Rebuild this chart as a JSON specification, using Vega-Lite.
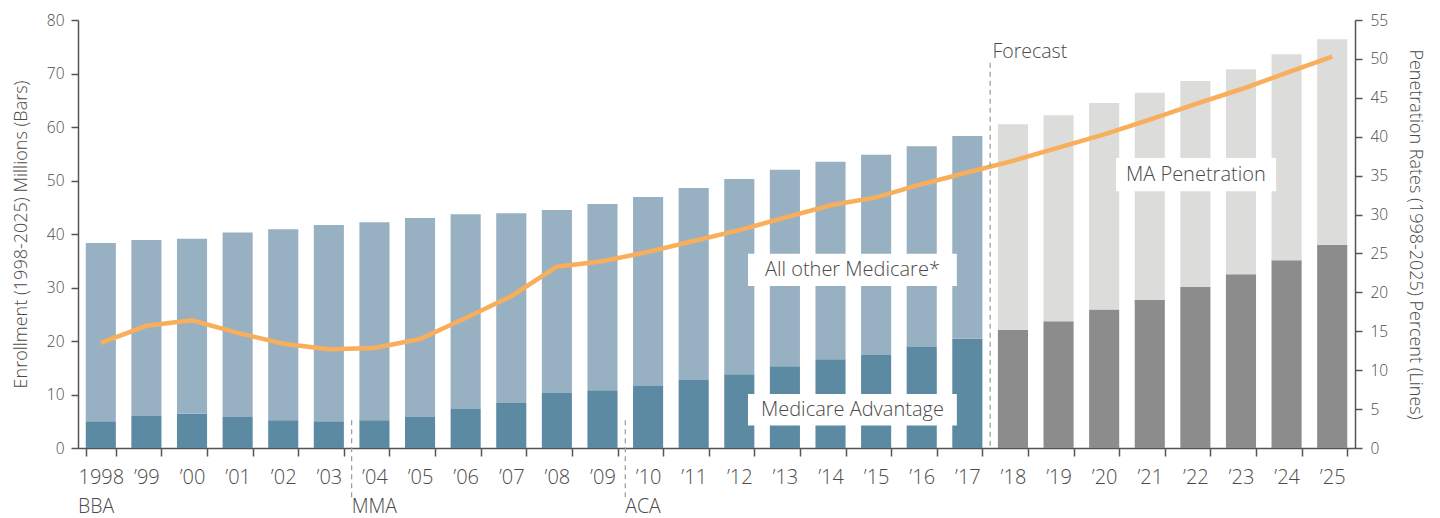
{
  "$schema": "https://vega.github.io/schema/vega-lite/v6.json",
  "width": 1277,
  "height": 428,
  "autosize": {"type": "none"},
  "padding": {"left": 78, "top": 20, "right": 85, "bottom": 70},
  "config": {
    "view": {"stroke": null},
    "font": "Open Sans",
    "axis": {
      "domainColor": "#555555",
      "domainWidth": 1.5,
      "tickColor": "#555555",
      "tickWidth": 1.5,
      "labelColor": "#4A4A4A",
      "titleColor": "#4A4A4A",
      "titleFontWeight": 300,
      "labelFontWeight": 300,
      "grid": false
    }
  },
  "datasets": {
    "bars": [
      {"yr": "1998", "seg": "Medicare Advantage", "ord": 0, "v": 5.0},
      {"yr": "1998", "seg": "All other Medicare*", "ord": 1, "v": 33.3},
      {"yr": "’99", "seg": "Medicare Advantage", "ord": 0, "v": 6.0},
      {"yr": "’99", "seg": "All other Medicare*", "ord": 1, "v": 32.9},
      {"yr": "’00", "seg": "Medicare Advantage", "ord": 0, "v": 6.4},
      {"yr": "’00", "seg": "All other Medicare*", "ord": 1, "v": 32.7},
      {"yr": "’01", "seg": "Medicare Advantage", "ord": 0, "v": 5.8},
      {"yr": "’01", "seg": "All other Medicare*", "ord": 1, "v": 34.5},
      {"yr": "’02", "seg": "Medicare Advantage", "ord": 0, "v": 5.2},
      {"yr": "’02", "seg": "All other Medicare*", "ord": 1, "v": 35.7},
      {"yr": "’03", "seg": "Medicare Advantage", "ord": 0, "v": 5.0},
      {"yr": "’03", "seg": "All other Medicare*", "ord": 1, "v": 36.7},
      {"yr": "’04", "seg": "Medicare Advantage", "ord": 0, "v": 5.2},
      {"yr": "’04", "seg": "All other Medicare*", "ord": 1, "v": 37.0},
      {"yr": "’05", "seg": "Medicare Advantage", "ord": 0, "v": 5.8},
      {"yr": "’05", "seg": "All other Medicare*", "ord": 1, "v": 37.2},
      {"yr": "’06", "seg": "Medicare Advantage", "ord": 0, "v": 7.3},
      {"yr": "’06", "seg": "All other Medicare*", "ord": 1, "v": 36.4},
      {"yr": "’07", "seg": "Medicare Advantage", "ord": 0, "v": 8.4},
      {"yr": "’07", "seg": "All other Medicare*", "ord": 1, "v": 35.5},
      {"yr": "’08", "seg": "Medicare Advantage", "ord": 0, "v": 10.3},
      {"yr": "’08", "seg": "All other Medicare*", "ord": 1, "v": 34.2},
      {"yr": "’09", "seg": "Medicare Advantage", "ord": 0, "v": 10.8},
      {"yr": "’09", "seg": "All other Medicare*", "ord": 1, "v": 34.8},
      {"yr": "’10", "seg": "Medicare Advantage", "ord": 0, "v": 11.6},
      {"yr": "’10", "seg": "All other Medicare*", "ord": 1, "v": 35.3},
      {"yr": "’11", "seg": "Medicare Advantage", "ord": 0, "v": 12.7},
      {"yr": "’11", "seg": "All other Medicare*", "ord": 1, "v": 35.9},
      {"yr": "’12", "seg": "Medicare Advantage", "ord": 0, "v": 13.8},
      {"yr": "’12", "seg": "All other Medicare*", "ord": 1, "v": 36.5},
      {"yr": "’13", "seg": "Medicare Advantage", "ord": 0, "v": 15.3},
      {"yr": "’13", "seg": "All other Medicare*", "ord": 1, "v": 36.7},
      {"yr": "’14", "seg": "Medicare Advantage", "ord": 0, "v": 16.6},
      {"yr": "’14", "seg": "All other Medicare*", "ord": 1, "v": 36.9},
      {"yr": "’15", "seg": "Medicare Advantage", "ord": 0, "v": 17.4},
      {"yr": "’15", "seg": "All other Medicare*", "ord": 1, "v": 37.4},
      {"yr": "’16", "seg": "Medicare Advantage", "ord": 0, "v": 18.9},
      {"yr": "’16", "seg": "All other Medicare*", "ord": 1, "v": 37.5},
      {"yr": "’17", "seg": "Medicare Advantage", "ord": 0, "v": 20.4},
      {"yr": "’17", "seg": "All other Medicare*", "ord": 1, "v": 37.9},
      {"yr": "’18", "seg": "MA forecast", "ord": 0, "v": 22.1},
      {"yr": "’18", "seg": "Other forecast", "ord": 1, "v": 38.4},
      {"yr": "’19", "seg": "MA forecast", "ord": 0, "v": 23.7},
      {"yr": "’19", "seg": "Other forecast", "ord": 1, "v": 38.5},
      {"yr": "’20", "seg": "MA forecast", "ord": 0, "v": 25.9},
      {"yr": "’20", "seg": "Other forecast", "ord": 1, "v": 38.6},
      {"yr": "’21", "seg": "MA forecast", "ord": 0, "v": 27.7},
      {"yr": "’21", "seg": "Other forecast", "ord": 1, "v": 38.7},
      {"yr": "’22", "seg": "MA forecast", "ord": 0, "v": 30.1},
      {"yr": "’22", "seg": "Other forecast", "ord": 1, "v": 38.5},
      {"yr": "’23", "seg": "MA forecast", "ord": 0, "v": 32.5},
      {"yr": "’23", "seg": "Other forecast", "ord": 1, "v": 38.3},
      {"yr": "’24", "seg": "MA forecast", "ord": 0, "v": 35.1},
      {"yr": "’24", "seg": "Other forecast", "ord": 1, "v": 38.5},
      {"yr": "’25", "seg": "MA forecast", "ord": 0, "v": 38.0},
      {"yr": "’25", "seg": "Other forecast", "ord": 1, "v": 38.4}
    ],
    "pen": [
      {"yr": "1998", "p": 13.5}, {"yr": "’99", "p": 15.7}, {"yr": "’00", "p": 16.4},
      {"yr": "’01", "p": 14.8}, {"yr": "’02", "p": 13.4}, {"yr": "’03", "p": 12.7},
      {"yr": "’04", "p": 12.85}, {"yr": "’05", "p": 14.0}, {"yr": "’06", "p": 16.7},
      {"yr": "’07", "p": 19.5}, {"yr": "’08", "p": 23.3}, {"yr": "’09", "p": 24.0},
      {"yr": "’10", "p": 25.2}, {"yr": "’11", "p": 26.6}, {"yr": "’12", "p": 28.0},
      {"yr": "’13", "p": 29.6}, {"yr": "’14", "p": 31.2}, {"yr": "’15", "p": 32.2},
      {"yr": "’16", "p": 33.9}, {"yr": "’17", "p": 35.4}, {"yr": "’18", "p": 36.9},
      {"yr": "’19", "p": 38.6}, {"yr": "’20", "p": 40.3}, {"yr": "’21", "p": 42.2},
      {"yr": "’22", "p": 44.2}, {"yr": "’23", "p": 46.1}, {"yr": "’24", "p": 48.2},
      {"yr": "’25", "p": 50.3}
    ],
    "boxes": [
      {"name": "All other Medicare*", "x1": 14.69, "x2": 19.27, "y1": 30.3, "y2": 36.3, "tx": 16.98, "ty": 33.3},
      {"name": "Medicare Advantage", "x1": 14.69, "x2": 19.27, "y1": 4.2, "y2": 10.1, "tx": 16.98, "ty": 7.1},
      {"name": "MA Penetration", "x1": 22.76, "x2": 26.27, "y1": 48.0, "y2": 54.2, "tx": 24.51, "ty": 51.0}
    ],
    "rules": [
      {"name": "Forecast", "x": 20, "y1": 72.0, "y2": 0},
      {"name": "MMA", "x": 6, "y1": 5.2, "y2": -9.3},
      {"name": "ACA", "x": 12, "y1": 5.2, "y2": -9.3}
    ],
    "notes": [
      {"name": "Forecast", "x": 20.05, "y": 74.1},
      {"name": "BBA", "x": 0.0, "y": -11.0},
      {"name": "MMA", "x": 6.0, "y": -11.0},
      {"name": "ACA", "x": 12.0, "y": -11.0}
    ]
  },
  "layer": [
    {
      "data": {"name": "bars"},
      "mark": {"type": "bar"},
      "encoding": {
        "x": {
          "field": "yr", "type": "ordinal", "sort": null,
          "scale": {"paddingInner": 0.34, "paddingOuter": 0.17},
          "axis": {
            "title": null, "labelAngle": 0, "tickBand": "extent", "tickSize": 8,
            "labelFontSize": 20, "labelPadding": 11
          }
        },
        "y": {
          "field": "v", "type": "quantitative", "stack": "zero",
          "scale": {"domain": [0, 80], "nice": false},
          "axis": {
            "title": "Enrollment (1998-2025) Millions (Bars)", "titleFontSize": 18,
            "titlePadding": 16, "values": [0,10,20,30,40,50,60,70,80],
            "tickSize": 7, "labelPadding": 7, "labelFontSize": 15.5
          }
        },
        "color": {
          "field": "seg", "type": "nominal",
          "scale": {
            "domain": ["Medicare Advantage", "All other Medicare*", "MA forecast", "Other forecast"],
            "range": ["#5C8AA3", "#97B1C3", "#8C8C8C", "#DCDCDB"]
          },
          "legend": null
        },
        "order": {"field": "ord", "type": "quantitative"}
      }
    },
    {
      "data": {"name": "pen"},
      "mark": {"type": "line", "color": "#F8AE5A", "strokeWidth": 4.5, "interpolate": "linear"},
      "encoding": {
        "x": {
          "field": "yr", "type": "ordinal", "sort": null, "bandPosition": 0.5,
          "scale": {"type": "band", "paddingInner": 0.34, "paddingOuter": 0.17},
          "axis": null
        },
        "y": {
          "field": "p", "type": "quantitative",
          "scale": {"domain": [0, 55], "nice": false},
          "axis": {
            "orient": "right", "title": "Penetration Rates (1998-2025) Percent (Lines)",
            "titleFontSize": 18, "titlePadding": 18, "values": [0,5,10,15,20,25,30,35,40,45,50,55],
            "tickSize": 7, "labelPadding": 8, "labelFontSize": 15.5
          }
        }
      }
    },
    {
      "layer": [
        {
          "data": {"name": "rules"},
          "mark": {"type": "rule", "color": "#9A9A9A", "strokeWidth": 1.2, "strokeDash": [5, 4]},
          "encoding": {
            "x": {"field": "x", "type": "quantitative", "scale": {"domain": [0, 28], "nice": false, "zero": false}, "axis": null},
            "y": {"field": "y1", "type": "quantitative", "scale": {"domain": [0, 80], "nice": false}, "axis": null},
            "y2": {"field": "y2"}
          }
        },
        {
          "data": {"name": "boxes"},
          "mark": {"type": "rect", "color": "white"},
          "encoding": {
            "x": {"field": "x1", "type": "quantitative"},
            "x2": {"field": "x2"},
            "y": {"field": "y1", "type": "quantitative"},
            "y2": {"field": "y2"}
          }
        },
        {
          "data": {"name": "boxes"},
          "mark": {"type": "text", "color": "#4A4A4A", "fontSize": 20, "fontWeight": 300, "align": "center", "baseline": "middle"},
          "encoding": {
            "x": {"field": "tx", "type": "quantitative"},
            "y": {"field": "ty", "type": "quantitative"},
            "text": {"field": "name"}
          }
        },
        {
          "data": {"name": "notes"},
          "mark": {"type": "text", "color": "#4A4A4A", "fontSize": 19.5, "fontWeight": 300, "align": "left", "baseline": "middle"},
          "encoding": {
            "x": {"field": "x", "type": "quantitative"},
            "y": {"field": "y", "type": "quantitative"},
            "text": {"field": "name"}
          }
        }
      ]
    }
  ],
  "resolve": {"scale": {"x": "independent", "y": "independent"}}
}
